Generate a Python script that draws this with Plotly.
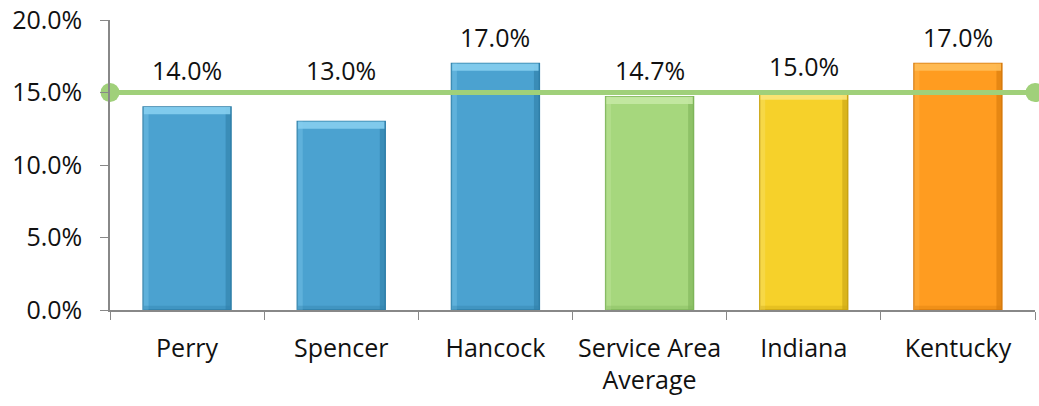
import plotly.graph_objects as go

categories = ["Perry", "Spencer", "Hancock", "Service Area<br>Average", "Indiana", "Kentucky"]
values = [14.0, 13.0, 17.0, 14.7, 15.0, 17.0]
bar_colors = ["#4BA2D0", "#4BA2D0", "#4BA2D0", "#A6D77D", "#F6D12A", "#FF9C20"]
edge_colors = ["#2F7FA8", "#2F7FA8", "#2F7FA8", "#7FB55A", "#C9A412", "#D77A0C"]
top_colors = ["#86CFF0", "#86CFF0", "#86CFF0", "#C6E9A4", "#FBE57A", "#FFBE58"]
benchmark = 15.0
y_ticks = [0, 5, 10, 15, 20]
y_tick_labels = ["0.0%", "5.0%", "10.0%", "15.0%", "20.0%"]

font_family = "Open Sans, Noto Sans, sans-serif"
font_size = 25
bar_width = 0.57
strip = 0.035

fig = go.Figure()

# main bars
fig.add_trace(go.Bar(
    x=categories, y=values,
    marker=dict(color=bar_colors, line=dict(color=edge_colors, width=1.5)),
    width=bar_width,
    hoverinfo="skip",
))

# bevel: darker right edge
fig.add_trace(go.Bar(
    x=categories, y=values,
    marker=dict(color=edge_colors, line=dict(width=0)),
    width=strip, offset=bar_width / 2 - strip,
    opacity=0.6,
    hoverinfo="skip",
))

# bevel: lighter left edge
fig.add_trace(go.Bar(
    x=categories, y=values,
    marker=dict(color=top_colors, line=dict(width=0)),
    width=strip, offset=-bar_width / 2,
    opacity=0.35,
    hoverinfo="skip",
))

# bevel: highlight along the top edge
fig.add_trace(go.Bar(
    x=categories, y=[0.5] * len(values),
    base=[v - 0.5 for v in values],
    marker=dict(color=top_colors, line=dict(width=0)),
    width=bar_width - 0.01,
    opacity=0.9,
    hoverinfo="skip",
))

# bevel: darker bottom edge
fig.add_trace(go.Bar(
    x=categories, y=[0.3] * len(values),
    base=[0] * len(values),
    marker=dict(color=edge_colors, line=dict(width=0)),
    width=bar_width - 0.01,
    opacity=0.35,
    hoverinfo="skip",
))

# benchmark line spanning the whole plot width
fig.add_trace(go.Scatter(
    x=[0, 1], y=[benchmark, benchmark],
    xaxis="x2",
    mode="lines+markers",
    line=dict(color="#A0D07A", width=5),
    marker=dict(color="#A0D07A", size=19),
    cliponaxis=False,
    hoverinfo="skip",
))

# value labels above each bar; labels of bars well below the benchmark
# are lifted above the benchmark line so they stay readable
for cat, v in zip(categories, values):
    if v < benchmark - 0.5:
        anchor_y, shift = benchmark, 23
    else:
        anchor_y, shift = v, 27
    fig.add_annotation(
        x=cat, y=anchor_y, text=f"{v:.1f}%",
        showarrow=False, yanchor="middle", yshift=shift,
        font=dict(size=font_size, color="#111111", family=font_family),
    )

fig.update_layout(
    width=1039, height=406,
    margin=dict(l=110, r=4, t=20, b=96, autoexpand=False),
    paper_bgcolor="white", plot_bgcolor="white",
    showlegend=False,
    barmode="overlay",
    font=dict(family=font_family, size=font_size, color="#111111"),
    xaxis=dict(
        type="category",
        tickson="boundaries",
        tickangle=0,
        automargin=False,
        ticks="outside", ticklen=8, tickcolor="#888888",
        showline=True, linecolor="#888888", linewidth=1.5,
        showgrid=False,
        ticklabelstandoff=15,
        tickfont=dict(size=font_size, family=font_family, color="#111111"),
    ),
    xaxis2=dict(
        overlaying="x", range=[0, 1], visible=False,
    ),
    yaxis=dict(
        range=[0, 20],
        automargin=False,
        tickvals=y_ticks, ticktext=y_tick_labels,
        ticks="outside", ticklen=8, tickcolor="#888888",
        showline=True, linecolor="#888888", linewidth=1.5,
        showgrid=False, zeroline=False,
        ticklabelstandoff=13,
        tickfont=dict(size=font_size, family=font_family, color="#111111"),
    ),
)

fig.write_html("out.html")
